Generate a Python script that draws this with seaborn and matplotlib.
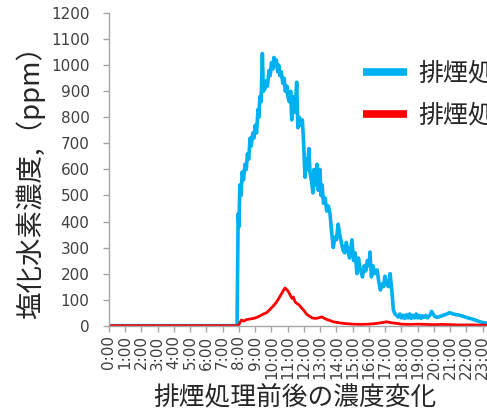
import matplotlib

matplotlib.use("Agg")
import matplotlib.pyplot as plt
import seaborn as sns
from matplotlib.lines import Line2D

sns.set_style("white")
plt.rcParams["font.family"] = ["Noto Sans CJK JP", "DejaVu Sans"]

# Hourly tick labels
hours = list(range(24))
hour_labels = [f"{h}:00" for h in hours]

# Before treatment (blue) - time in hours, HCl in ppm
before_time = [
    0.0, 7.88, 7.95, 8.0, 8.05, 8.12, 8.2, 8.28, 8.37, 8.45, 8.52, 8.6, 8.68,
    8.75, 8.85, 8.92, 9.0, 9.08, 9.17, 9.22, 9.29, 9.36, 9.44, 9.5, 9.6, 9.68,
    9.75, 9.85, 9.92, 10.0, 10.08, 10.15, 10.22, 10.3, 10.38, 10.45, 10.52,
    10.6, 10.7, 10.78, 10.85, 10.95, 11.0, 11.1, 11.18, 11.25, 11.35, 11.45,
    11.55, 11.62, 11.72, 11.8, 11.9, 11.98, 12.06, 12.15, 12.22, 12.3, 12.37,
    12.45, 12.55, 12.62, 12.7, 12.8, 12.88, 12.98, 13.05, 13.12, 13.2, 13.3,
    13.4, 13.5, 13.6, 13.7, 13.8, 13.9, 14.0, 14.1, 14.2, 14.3, 14.4, 14.5,
    14.6, 14.7, 14.8, 14.95, 15.05, 15.15, 15.26, 15.35, 15.45, 15.6, 15.7,
    15.8, 15.9, 16.0, 16.06, 16.15, 16.25, 16.35, 16.5, 16.6, 16.7, 16.8,
    16.9, 16.98, 17.08, 17.2, 17.3, 17.4, 17.5, 17.6, 17.7, 17.8, 17.9, 18.0,
    18.1, 18.2, 18.3, 18.4, 18.5, 18.6, 18.7, 18.8, 18.9, 19.0, 19.1, 19.2,
    19.3, 19.4, 19.5, 19.6, 19.75, 19.85, 19.95, 20.05, 20.2, 20.35, 20.5,
    20.65, 20.8, 20.95, 21.05, 21.2, 21.4, 21.6, 21.8, 22.0, 22.2, 22.4,
    22.6, 22.8, 23.0, 23.2, 23.5,
]
before_ppm = [
    0, 0, 430, 380, 540, 500, 590, 560, 620, 600, 660, 640, 720,
    690, 740, 720, 770, 740, 830, 800, 880, 860, 1045, 900, 910, 940,
    920, 980, 960, 1010, 985, 1030, 1000, 1020, 975, 1000, 960,
    975, 930, 950, 900, 920, 880, 860, 900, 790, 880, 820,
    935, 760, 800, 770, 790, 700, 570, 640, 600, 680, 590,
    560, 510, 600, 540, 620, 520, 600, 500, 540, 470, 490,
    440, 460, 430, 360, 300, 340, 330, 390, 350, 320, 290, 280,
    320, 290, 260, 330, 250, 280, 200, 260, 220, 187, 230,
    210, 250, 230, 283, 187, 230, 200, 214, 170, 137, 160,
    150, 190, 160, 150, 200, 140, 60, 45, 40, 33, 45, 30,
    40, 28, 42, 30, 45, 28, 40, 30, 45, 30, 40, 28,
    38, 32, 40, 30, 40, 55, 45, 35, 32, 35, 38,
    42, 45, 50, 48, 45, 42, 40, 36, 32, 28, 25,
    20, 16, 12, 10, 8,
]

# After treatment (red)
after_time = [
    0.0, 7.9, 8.0, 8.06, 8.15, 8.3, 8.5, 8.7, 8.9, 9.1, 9.3, 9.5, 9.7, 9.9,
    10.1, 10.3, 10.5, 10.7, 10.83, 10.95, 11.05, 11.15, 11.26, 11.35, 11.45,
    11.57, 11.7, 11.85, 12.0, 12.15, 12.3, 12.5, 12.7, 12.9, 13.1, 13.2,
    13.4, 13.6, 13.8, 14.0, 14.3, 14.6, 15.0, 15.5, 16.0, 16.5, 16.9, 17.1,
    17.4, 17.7, 18.0, 18.5, 19.0, 19.5, 20.0, 20.5, 21.0, 21.5, 22.0, 22.5,
    23.0, 23.5,
]
after_ppm = [
    0, 0, 5, 12, 22, 18, 24, 26, 28, 32, 38, 45, 50, 62,
    75, 90, 110, 132, 145, 138, 130, 118, 105, 110, 92,
    85, 80, 68, 58, 45, 38, 30, 28, 30, 34, 30,
    24, 20, 15, 13, 10, 8, 6, 5, 6, 9, 13, 15,
    11, 9, 6, 5, 6, 5, 4, 5, 4, 3, 3, 3,
    2, 2,
]

series_labels = ["排煙処理前", "排煙処理後"]
series_colors = ["#00B0F0", "#FF0000"]

fig = plt.figure(figsize=(4.87, 4.11), dpi=100)
# axes run past the right edge, the original picture is cropped there
ax = fig.add_axes([0.2238, 0.2075, 0.8008, 0.7605])

sns.lineplot(x=before_time, y=before_ppm, ax=ax, color=series_colors[0], linewidth=2.6)
sns.lineplot(x=after_time, y=after_ppm, ax=ax, color=series_colors[1], linewidth=2.0)

ax.set_xlim(0, 24)
ax.set_ylim(0, 1200)
ax.set_yticks(range(0, 1201, 100))
ax.set_xticks(hours)
ax.set_xticklabels(hour_labels, rotation=90, family="DejaVu Sans")
for lab in ax.get_yticklabels():
    lab.set_family("DejaVu Sans")

ax.tick_params(axis="y", labelsize=11, colors="#A6A6A6", labelcolor="#404040",
               length=4, width=1, pad=10, left=True, direction="out")
ax.tick_params(axis="x", labelsize=11, colors="#A6A6A6", labelcolor="#404040",
               length=4, width=1, pad=3, bottom=True, direction="out")

for side in ["top", "right"]:
    ax.spines[side].set_visible(False)
for side in ["left", "bottom"]:
    ax.spines[side].set_color("#A6A6A6")
    ax.spines[side].set_linewidth(1)

ax.set_xlabel("")
ax.set_ylabel("")
fig.text(0.605, 0.034, "排煙処理前後の濃度変化", fontsize=18.5, ha="center", va="center")
fig.text(0.062, 0.574, "塩化水素濃度,（ppm）", fontsize=19.8, rotation=90,
         ha="center", va="center")

handles = [Line2D([0], [0], color=c, linewidth=5.5, solid_capstyle="butt")
           for c in series_colors]
fig.legend(handles, series_labels, loc="upper left", bbox_to_anchor=(0.745, 0.853),
           frameon=False, fontsize=18, handlelength=1.75, handletextpad=0.45,
           labelspacing=0.65, borderpad=0, borderaxespad=0)

fig.savefig("out.png", dpi=100)
